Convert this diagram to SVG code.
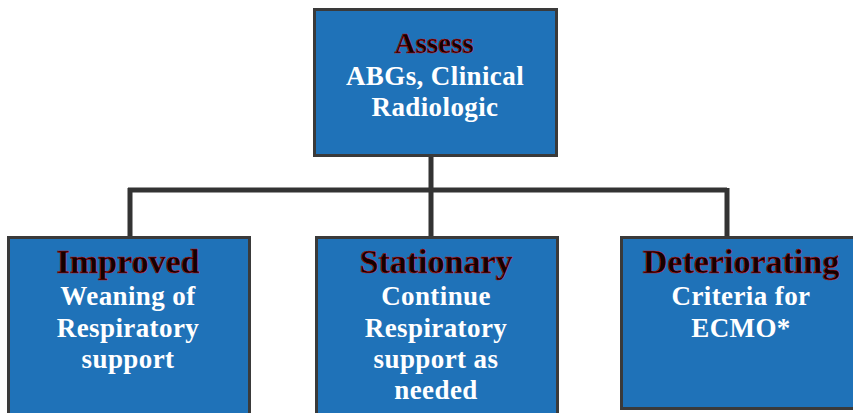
<svg xmlns="http://www.w3.org/2000/svg" width="853" height="413" viewBox="0 0 853 413">
<style>
.box{fill:#1f72b8;stroke:#3a3a3a;stroke-width:3}
.ttl{font-family:"Liberation Serif",serif;font-weight:bold;fill:#140000;stroke:#c41010;stroke-width:0.5;text-anchor:middle}
.txt{font-family:"Liberation Serif",serif;font-weight:bold;fill:#ffffff;font-size:27px;letter-spacing:0.4px;text-anchor:middle}
.con{fill:none;stroke:#333333;stroke-width:5}
</style>
<rect width="853" height="413" fill="#ffffff"/>
<g id="connectors">
<path class="con" d="M431 156 V190 M128 190 H727 M130 188 V236 M431 190 V236 M727 188 V236"/>
</g>
<g id="assess">
<rect class="box" x="314.5" y="9.5" width="242" height="146"/>
<text class="ttl" x="434" y="53" font-size="29">Assess</text>
<text class="txt" x="435" y="85">ABGs, Clinical</text>
<text class="txt" x="435" y="116">Radiologic</text>
</g>
<g id="improved">
<rect class="box" x="8.5" y="237.5" width="241" height="180"/>
<text class="ttl" x="128" y="273" font-size="34">Improved</text>
<text class="txt" x="128" y="305">Weaning of</text>
<text class="txt" x="128" y="337">Respiratory</text>
<text class="txt" x="128" y="368">support</text>
</g>
<g id="stationary">
<rect class="box" x="316.5" y="237.5" width="241" height="180"/>
<text class="ttl" x="436" y="273" font-size="34">Stationary</text>
<text class="txt" x="436" y="305">Continue</text>
<text class="txt" x="436" y="337">Respiratory</text>
<text class="txt" x="436" y="368">support as</text>
<text class="txt" x="436" y="399">needed</text>
</g>
<g id="deteriorating">
<rect class="box" x="621.5" y="237.5" width="240" height="171"/>
<text class="ttl" x="741" y="273" font-size="34">Deteriorating</text>
<text class="txt" x="741" y="305">Criteria for</text>
<text class="txt" x="741" y="337">ECMO*</text>
</g>
</svg>
